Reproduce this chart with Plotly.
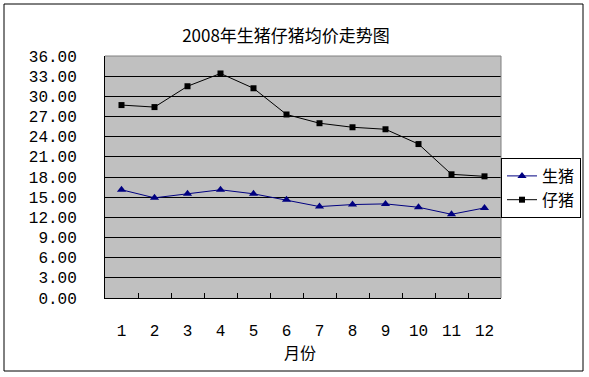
import plotly.graph_objects as go

months = ["1", "2", "3", "4", "5", "6", "7", "8", "9", "10", "11", "12"]
live_pig = [16.1, 14.9, 15.5, 16.1, 15.5, 14.6, 13.6, 13.9, 14.0, 13.5, 12.45, 13.4]
piglet = [28.7, 28.4, 31.5, 33.4, 31.2, 27.3, 26.0, 25.4, 25.1, 22.9, 18.4, 18.1]
y_ticks = [0, 3, 6, 9, 12, 15, 18, 21, 24, 27, 30, 33, 36]

W, H = 589, 377
L, R, T, B = 105, 501, 56, 298
pw, ph = R - L, B - T

def px_x(x):
    return (x - L) / pw

def px_y(y):
    return (B - y) / ph

mono = "Liberation Mono, DejaVu Sans Mono, monospace"
cjk = "Noto Sans CJK SC, sans-serif"

fig = go.Figure()
fig.add_trace(go.Scatter(
    x=months, y=live_pig, name="生猪", mode="lines+markers",
    line=dict(color="#000080", width=1),
    marker=dict(symbol="triangle-up", size=8, color="#000080"),
))
fig.add_trace(go.Scatter(
    x=months, y=piglet, name="仔猪", mode="lines+markers",
    line=dict(color="#000000", width=1),
    marker=dict(symbol="square", size=6, color="#000000"),
))

fig.update_layout(
    width=W, height=H,
    margin=dict(l=L, r=W - R, t=T, b=H - B, pad=0, autoexpand=False),
    paper_bgcolor="white",
    plot_bgcolor="#C0C0C0",
    showlegend=True,
    hovermode=False,
    title=dict(
        text="2008年生猪仔猪均价走势图",
        font=dict(family=cjk, size=17, color="black"),
        xref="paper", x=px_x(286), xanchor="center",
        yref="container", y=1 - 36 / H, yanchor="middle",
    ),
    legend=dict(
        x=1.0, xanchor="left", y=px_y(158), yanchor="top",
        bgcolor="white", bordercolor="black", borderwidth=1,
        font=dict(family=cjk, size=16, color="black"),
        itemwidth=30, tracegroupgap=2,
    ),
    xaxis=dict(
        type="category", tickson="boundaries", automargin=False,
        range=[-0.5, len(months) - 0.5],
        ticks="inside", ticklen=5, tickcolor="black", tickwidth=1,
        showgrid=False, showline=True, linecolor="black", linewidth=1,
        tickfont=dict(family=mono, size=16, color="black"),
        ticklabelstandoff=18, zeroline=False,
    ),
    yaxis=dict(
        range=[0, 36], tickvals=y_ticks, tickformat=".2f", automargin=False,
        showgrid=True, gridcolor="black", gridwidth=1,
        showline=True, linecolor="black", linewidth=1,
        ticks="", zeroline=False,
        tickfont=dict(family=mono, size=16, color="black"),
        ticklabelstandoff=24,
    ),
    annotations=[dict(
        text="月份", xref="paper", yref="paper",
        x=px_x(300), y=px_y(352), xanchor="center", yanchor="middle",
        showarrow=False, font=dict(family=cjk, size=16, color="black"),
    )],
    shapes=[
        dict(type="line", xref="paper", yref="paper", x0=0, x1=1, y0=1, y1=1,
             line=dict(color="#808080", width=1)),
        dict(type="line", xref="paper", yref="paper", x0=1, x1=1, y0=0, y1=1,
             line=dict(color="#808080", width=1)),
        dict(type="rect", xref="paper", yref="paper",
             x0=px_x(4), x1=px_x(583), y0=px_y(371), y1=px_y(4),
             line=dict(color="black", width=1), fillcolor="rgba(0,0,0,0)"),
    ],
)

fig.write_html("out.html", config={"displayModeBar": False},
               post_script="document.body.style.margin='0';")
